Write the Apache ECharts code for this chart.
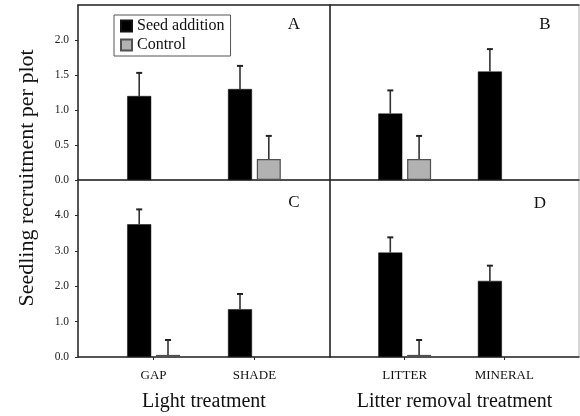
<!DOCTYPE html>
<html>
<head>
<meta charset="utf-8">
<script src="https://cdn.jsdelivr.net/npm/echarts@6/dist/echarts.min.js"></script>
<style>
  html, body { margin: 0; padding: 0; background: #fff; }
  #chart { width: 580px; height: 416px; }
</style>
</head>
<body>
<div id="chart"></div>
<script>
// categories
const lightCats = ['GAP', 'SHADE']
const litterCats = ['LITTER', 'MINERAL']
const groupNames = ['Seed addition', 'Control']

// A: light treatment, seedlings per plot (mean, SE)
const seedA = [1.2, 1.3]
const seedErrA = [0.33, 0.33]
const ctrlA = [null, 0.3]
const ctrlErrA = [null, 0.33]

// B: litter removal
const seedB = [0.95, 1.55]
const seedErrB = [0.33, 0.32]
const ctrlB = [0.3, null]
const ctrlErrB = [0.33, null]

// C: light treatment
const seedC = [3.75, 1.35]
const seedErrC = [0.42, 0.43]
const ctrlC = [0.06, null]
const ctrlErrC = [0.42, null]

// D: litter removal
const seedD = [2.95, 2.15]
const seedErrD = [0.43, 0.43]
const ctrlD = [0.06, null]
const ctrlErrD = [0.42, null]

const panelLetters = ['A', 'B', 'C', 'D']
const yTopMax = 2.5
const yBottomMax = 5

const FONT = '"Liberation Serif", "Times New Roman", serif'
const LINE = '#2a2a2a'

const panels = [
  { cats: lightCats, seed: seedA, seedErr: seedErrA, ctrl: ctrlA, ctrlErr: ctrlErrA },
  { cats: litterCats, seed: seedB, seedErr: seedErrB, ctrl: ctrlB, ctrlErr: ctrlErrB },
  { cats: lightCats, seed: seedC, seedErr: seedErrC, ctrl: ctrlC, ctrlErr: ctrlErrC },
  { cats: litterCats, seed: seedD, seedErr: seedErrD, ctrl: ctrlD, ctrlErr: ctrlErrD }
]

// two real categories sit in slots 1 and 3 of five, which spaces them like the original
const padCats = c => ['', c[0], ' ', c[1], '  ']
const padVals = v => ['-', v[0] == null ? '-' : v[0], '-', v[1] == null ? '-' : v[1], '-']
const errData = (v, e) => {
  const out = []
  v.forEach((m, i) => {
    if (m != null && e[i] != null) out.push([2 * i + 1, m, e[i]])
  })
  return out
}

const BAR_W = 24
const BAR_GAP = 0.2
const half = (BAR_W * (1 + BAR_GAP)) / 2

const errSeries = (k, data, off) => ({
  type: 'custom',
  xAxisIndex: k,
  yAxisIndex: k,
  z: 5,
  silent: true,
  encode: { x: 0, y: 1 },
  data: data,
  renderItem: function (params, api) {
    const idx = api.value(0)
    const mean = api.value(1)
    const se = api.value(2)
    const base = api.coord([idx, mean])
    const top = api.coord([idx, mean + se])
    const x = base[0] + off
    return {
      type: 'group',
      children: [
        { type: 'line', shape: { x1: x, y1: base[1], x2: x, y2: top[1] },
          style: { stroke: '#333', lineWidth: 1.6 } },
        { type: 'line', shape: { x1: x - 3, y1: top[1], x2: x + 3, y2: top[1] },
          style: { stroke: '#222', lineWidth: 2 } }
      ]
    }
  }
})

const grids = [
  { left: 78, top: 5, width: 252, height: 175 },
  { left: 330, top: 5, width: 249, height: 175 },
  { left: 78, top: 180, width: 252, height: 177 },
  { left: 330, top: 180, width: 249, height: 177 }
].map(g => Object.assign({ show: true, borderColor: '#aaa', borderWidth: 1, backgroundColor: 'transparent' }, g))

const xAxes = panels.map((p, k) => {
  const bottom = k >= 2
  return {
    type: 'category',
    gridIndex: k,
    data: padCats(p.cats),
    axisLine: { show: true, lineStyle: { color: LINE, width: 1.5 } },
    axisTick: {
      show: bottom,
      alignWithLabel: true,
      length: 3,
      interval: i => i % 2 === 1,
      lineStyle: { color: LINE }
    },
    axisLabel: {
      show: bottom,
      interval: i => i % 2 === 1,
      margin: 12,
      fontFamily: FONT,
      fontSize: 13,
      color: '#111'
    },
    name: bottom ? (k === 2 ? 'Light treatment' : 'Litter removal treatment') : '',
    nameLocation: 'middle',
    nameGap: 35,
    nameTextStyle: { fontFamily: FONT, fontSize: 20, color: '#111' }
  }
})
// dark top frame line for the upper panels
for (let k = 0; k < 2; k++) {
  xAxes.push({
    type: 'category',
    gridIndex: k,
    position: 'top',
    data: padCats(panels[k].cats),
    axisLine: { show: true, lineStyle: { color: LINE, width: 1.5 } },
    axisTick: { show: false },
    axisLabel: { show: false }
  })
}

const yAxes = panels.map((p, k) => {
  const top = k < 2
  const left = k % 2 === 0
  return {
    type: 'value',
    gridIndex: k,
    min: 0,
    max: top ? yTopMax : yBottomMax,
    interval: top ? 0.5 : 1,
    splitLine: { show: false },
    axisLine: { show: true, lineStyle: { color: LINE, width: 1.5 } },
    axisTick: { show: left, length: 3, lineStyle: { color: LINE } },
    axisLabel: {
      show: left,
      showMaxLabel: false,
      margin: 9,
      fontFamily: FONT,
      fontSize: 11.5,
      color: '#222',
      formatter: v => v.toFixed(1)
    }
  }
})

const series = []
panels.forEach((p, k) => {
  series.push({
    name: groupNames[0],
    type: 'bar',
    xAxisIndex: k,
    yAxisIndex: k,
    barWidth: BAR_W,
    barGap: BAR_GAP * 100 + '%',
    data: padVals(p.seed),
    itemStyle: { color: '#000', borderColor: '#111', borderWidth: 0.5 }
  })
  series.push({
    name: groupNames[1],
    type: 'bar',
    xAxisIndex: k,
    yAxisIndex: k,
    barWidth: BAR_W,
    barGap: BAR_GAP * 100 + '%',
    data: padVals(p.ctrl),
    itemStyle: { color: '#b2b2b2', borderColor: '#505050', borderWidth: 1.2 }
  })
  series.push(errSeries(k, errData(p.seed, p.seedErr), -half))
  series.push(errSeries(k, errData(p.ctrl, p.ctrlErr), half))
})

// panel letters
const letterPos = [[294, 25], [545, 25], [294, 203], [540, 204]]
const graphics = panelLetters.map((t, i) => ({
  type: 'text',
  x: letterPos[i][0],
  y: letterPos[i][1],
  style: {
    text: t,
    font: '17px ' + FONT,
    fill: '#111',
    textAlign: 'center',
    textVerticalAlign: 'middle'
  }
}))
graphics.push({
  type: 'text',
  x: 27,
  y: 178,
  rotation: Math.PI / 2,
  style: {
    text: 'Seedling recruitment per plot',
    font: '22px ' + FONT,
    fill: '#111',
    textAlign: 'center',
    textVerticalAlign: 'middle'
  }
})

const chart = echarts.init(document.getElementById('chart'))
chart.setOption({
  animation: false,
  backgroundColor: '#fff',
  legend: {
    data: groupNames,
    orient: 'vertical',
    left: 114,
    top: 15,
    icon: 'rect',
    itemWidth: 11,
    itemHeight: 11,
    itemGap: 3,
    padding: [3, 6],
    borderColor: '#555',
    borderWidth: 1,
    backgroundColor: '#fff',
    textStyle: { fontFamily: FONT, fontSize: 16, color: '#111' }
  },
  grid: grids,
  xAxis: xAxes,
  yAxis: yAxes,
  series: series,
  graphic: graphics
})
</script>
</body>
</html>
